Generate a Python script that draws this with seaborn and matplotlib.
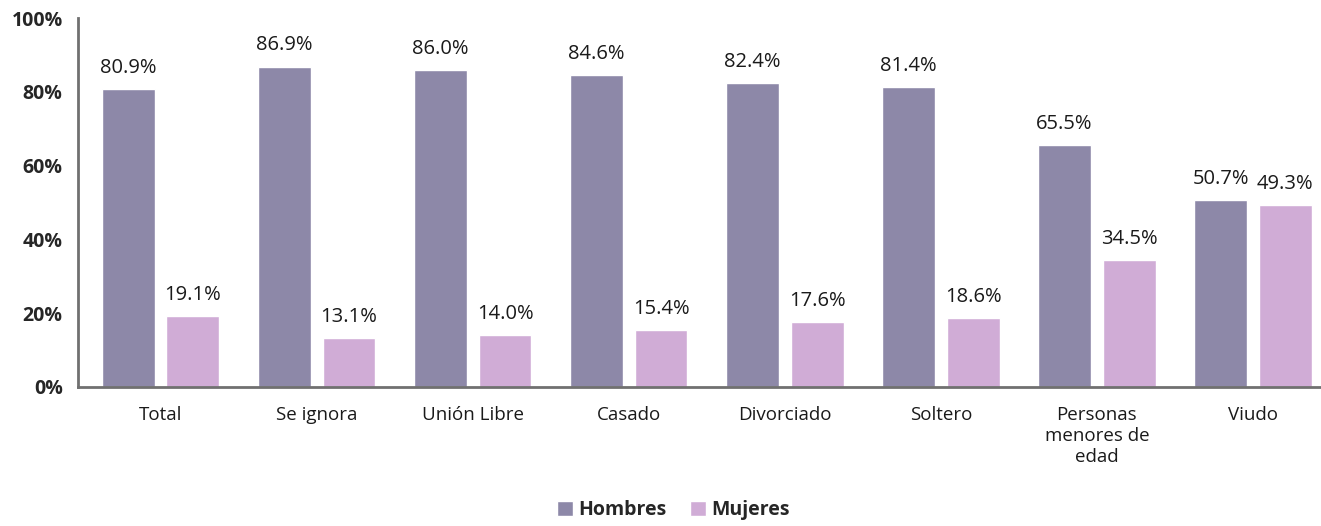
import matplotlib
matplotlib.use("Agg")
import matplotlib.pyplot as plt
import numpy as np
import pandas as pd
import seaborn as sns
from matplotlib.ticker import FixedLocator

categorias = ["Total", "Se ignora", "Unión Libre", "Casado", "Divorciado",
              "Soltero", "Personas\nmenores de\nedad", "Viudo"]
hombres = [80.9, 86.9, 86.0, 84.6, 82.4, 81.4, 65.5, 50.7]
mujeres = [19.1, 13.1, 14.0, 15.4, 17.6, 18.6, 34.5, 49.3]
series = ["Hombres", "Mujeres"]
colores = ["#8D88A8", "#D0ACD6"]

df = pd.DataFrame({
    "categoria": categorias * 2,
    "sexo": [series[0]] * len(categorias) + [series[1]] * len(categorias),
    "valor": hombres + mujeres,
})

sns.set_style("white")
plt.rcParams["font.family"] = ["Open Sans", "DejaVu Sans"]

fig = plt.figure(figsize=(13.21, 5.26), dpi=100)
ax = fig.add_axes([0.059, 0.2648, 0.941, 0.7004])

sns.barplot(data=df, x="categoria", y="valor", hue="sexo", order=categorias,
            hue_order=series, palette=colores, width=0.83, gap=0.185,
            saturation=1, ax=ax, legend=True)

for cont in ax.containers:
    ax.bar_label(cont, labels=[f"{v:.1f}%" for v in cont.datavalues],
                 padding=8, fontsize=14.5, color="#1a1a1a")

ax.set_xlim(-0.529, 7.436)
ax.set_ylim(0, 100)
ax.set_yticks([0, 20, 40, 60, 80, 100])
ax.set_yticklabels([f"{t}%" for t in range(0, 101, 20)],
                   fontweight="bold", fontsize=14)
ax.set_xlabel("")
ax.set_ylabel("")
ax.tick_params(axis="x", which="major", length=0, pad=14, labelsize=13.5,
               labelcolor="#1a1a1a")
ax.xaxis.set_minor_locator(FixedLocator(np.arange(-0.5, 7.5, 1.0)))
ax.tick_params(axis="x", which="minor", length=6, width=2, color="#707070")
ax.tick_params(axis="y", length=7, width=2, color="#707070", pad=4)

sns.despine(ax=ax, top=True, right=True)
for side in ["left", "bottom"]:
    ax.spines[side].set_color("#707070")
    ax.spines[side].set_linewidth(2)

# legend sits at the very bottom edge, as in the source
handles, labels = ax.get_legend_handles_labels()
ax.get_legend().remove()
fig.legend(handles, labels, loc="lower center", bbox_to_anchor=(0.51, -0.022),
           ncol=2, frameon=False, handlelength=0.8, handleheight=0.8,
           handletextpad=0.3, columnspacing=1.2,
           prop={"weight": "bold", "size": 14})

fig.savefig("out.png", dpi=100)
